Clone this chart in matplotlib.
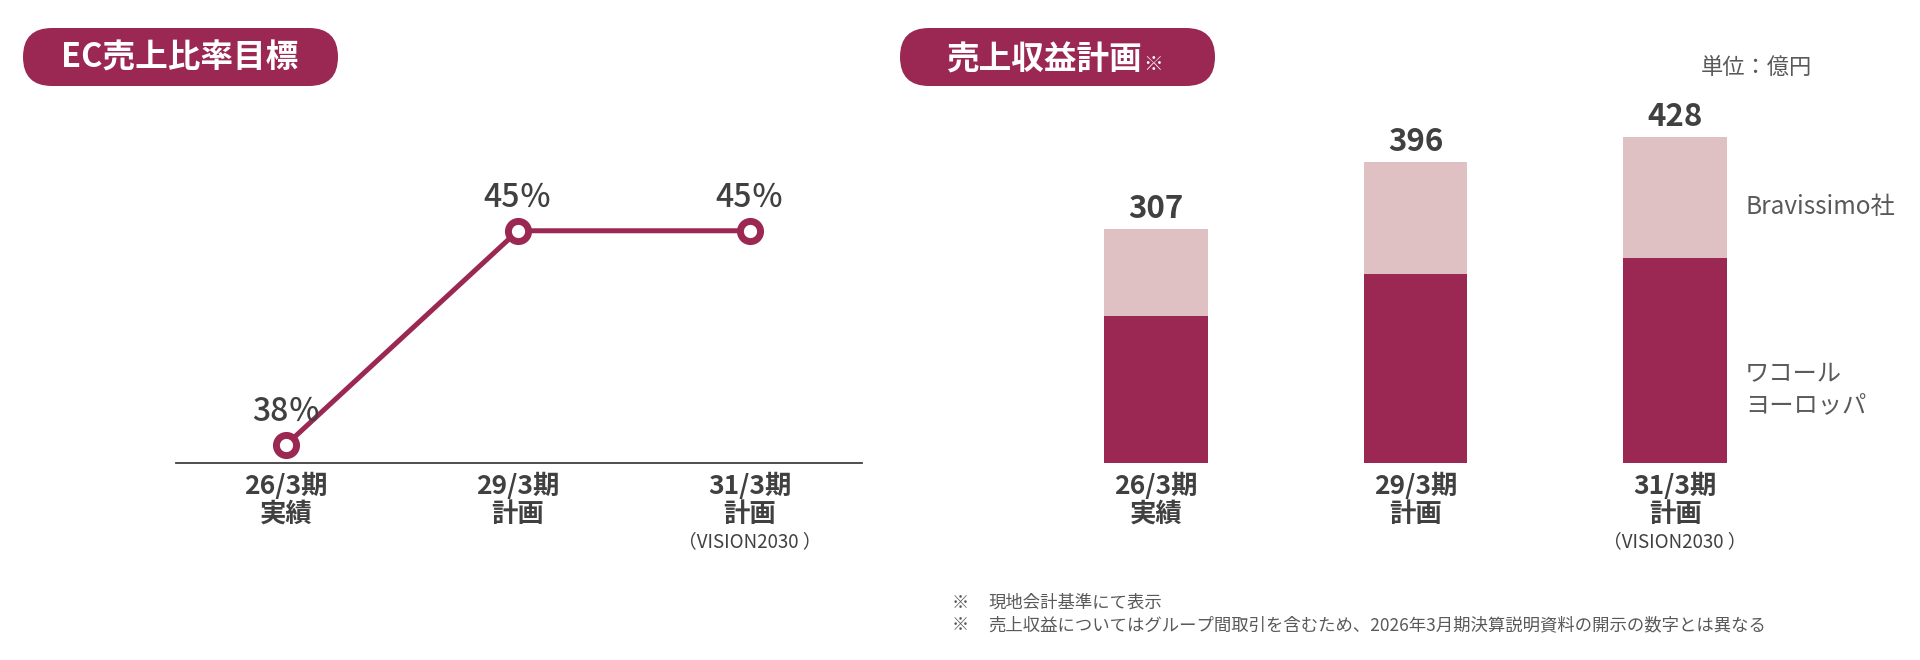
import matplotlib
matplotlib.use("Agg")
import matplotlib.pyplot as plt
import matplotlib.transforms as mtransforms
from matplotlib.patches import FancyBboxPatch

plt.rcParams['font.family'] = ['Noto Sans CJK JP', 'DejaVu Sans']

# data
periods = ['26/3期', '29/3期', '31/3期']
period_notes = ['実績', '計画', '計画']
ec_ratio = [38, 45, 45]
wacoal_europe = [193, 249, 269]
bravissimo = [114, 147, 159]
totals = [307, 396, 428]

DARK = '#9B2852'
LIGHT = '#E0C1C3'
TEXT = '#404040'
SUB = '#595959'

W, H = 1920, 660
fig = plt.figure(figsize=(W / 100, H / 100), dpi=100)

# background layer in pixel units (y goes down)
bg = fig.add_axes([0, 0, 1, 1])
bg.set_xlim(0, W)
bg.set_ylim(H, 0)
bg.axis('off')


def px_axes(x0, y0, x1, y1):
    ax = fig.add_axes([x0 / W, 1 - y1 / H, (x1 - x0) / W, (y1 - y0) / H])
    ax.patch.set_alpha(0)
    return ax


def pill(x0, y0, x1, y1):
    h = y1 - y0
    p = FancyBboxPatch((x0, y0), x1 - x0, h,
                       boxstyle="round,pad=0,rounding_size=%f" % (h / 2),
                       fc=DARK, ec='none')
    bg.add_patch(p)


# titles
pill(23, 28, 338, 86)
bg.text(180, 58, 'EC売上比率目標', color='white', fontsize=23.5, fontweight='bold',
        ha='center', va='center')
pill(900, 28, 1215, 86)
bg.text(1142, 70, '売上収益計画', color='white', fontsize=23.5, fontweight='bold',
        ha='right', va='baseline')
bg.text(1143, 70, '※', color='white', fontsize=14, ha='left', va='baseline')

# ---- left: EC ratio line ----
ax1 = px_axes(176, 120, 862, 463)
x = list(range(len(periods)))
ax1.plot(x, ec_ratio, color=DARK, lw=3.6, marker='o', ms=14.5, mew=5,
         mfc='white', mec=DARK, clip_on=False, zorder=3)
ax1.set_xlim(-0.474, 2.483)
ax1.set_ylim(37.41, 48.62)
for s in ['top', 'right', 'left']:
    ax1.spines[s].set_visible(False)
ax1.spines['bottom'].set_color(TEXT)
ax1.spines['bottom'].set_linewidth(1.3)
ax1.set_xticks([])
ax1.set_yticks([])
for i, v in enumerate(ec_ratio):
    ax1.annotate('%d％' % v, (i, v), xytext=(0, 17), textcoords='offset points',
                 ha='center', va='baseline', fontsize=23, fontweight='medium',
                 color=TEXT)

# ---- right: revenue stacked bars ----
ax2 = px_axes(1026, 100, 1805, 463)
ax2.bar(x, wacoal_europe, width=0.4, color=DARK)
ax2.bar(x, bravissimo, width=0.4, bottom=wacoal_europe, color=LIGHT)
ax2.set_xlim(-0.5, 2.5)
ax2.set_ylim(0, 477)
ax2.axis('off')
for i, v in enumerate(totals):
    ax2.annotate(str(v), (i, v), xytext=(0, 8), textcoords='offset points',
                 ha='center', va='baseline', fontsize=22.5, fontweight='bold',
                 color=TEXT)

# category labels under both charts
for ax in (ax1, ax2):
    tr = mtransforms.blended_transform_factory(ax.transData, bg.transData)
    for i in x:
        bg.text(i, 486, periods[i], transform=tr, ha='center', va='center',
                fontsize=19, fontweight='bold', color=TEXT)
        bg.text(i, 514, period_notes[i], transform=tr, ha='center', va='center',
                fontsize=19, fontweight='bold', color=TEXT)
    bg.text(x[-1], 542, '（VISION2030 ）', transform=tr, ha='center',
            va='center', fontsize=13.5, color=TEXT)

# series labels and unit
bg.text(1756, 68, '単位：億円', ha='center', va='center', fontsize=16, color=SUB)
bg.text(1745, 207, 'Bravissimo社', ha='left', va='center', fontsize=17.5,
        color=SUB)
bg.text(1745, 390, 'ワコール\nヨーロッパ', ha='left', va='center', fontsize=17.5,
        color=SUB, linespacing=1.25)

# footnotes
notes = ['現地会計基準にて表示',
         '売上収益についてはグループ間取引を含むため、2026年3月期決算説明資料の開示の数字とは異なる']
for k, n in enumerate(notes):
    yy = 603 + 22 * k
    bg.text(952, yy, '※', ha='left', va='center', fontsize=12.5, color=SUB)
    bg.text(988, yy, n, ha='left', va='center', fontsize=12.5, color=SUB)

fig.savefig('out.png', dpi=100)
